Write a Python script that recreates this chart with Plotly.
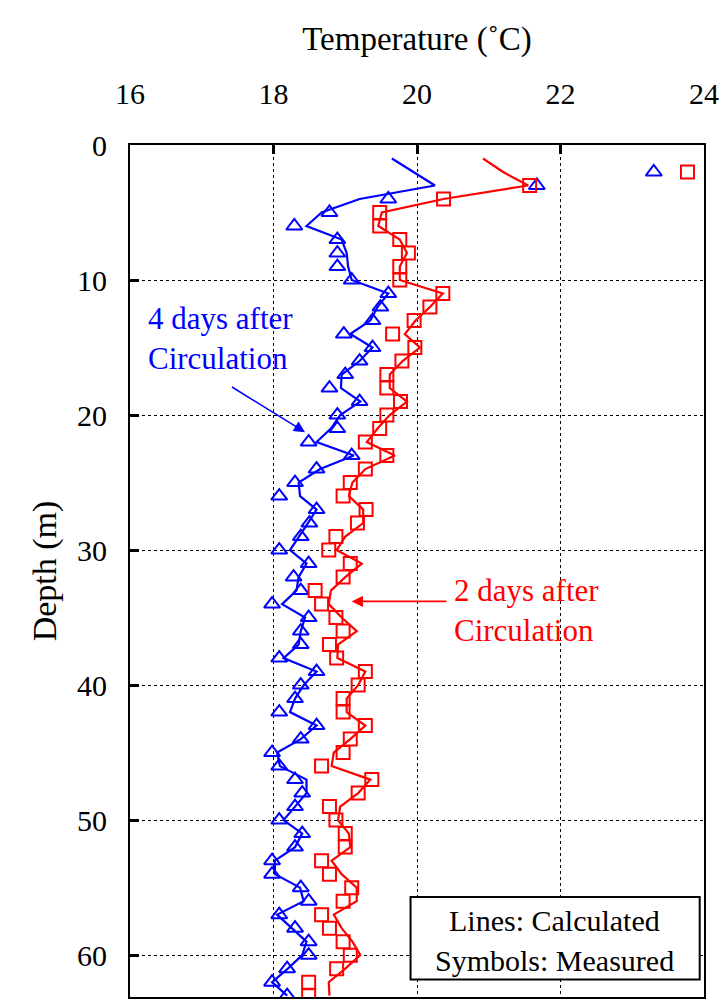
import plotly.graph_objects as go

# Measured temperatures (symbols) by depth
depth_meas = list(range(2, 64))
temp_4day_meas = [23.30, 21.67, 19.60, 18.78, 18.29, 18.89, 18.89, 18.89, 19.09, 19.60,
                  19.49, 19.38, 18.98, 19.38, 19.20, 19.00, 18.78, 19.20, 18.89, 18.89,
                  18.49, 19.09, 18.60, 18.30, 18.08, 18.60, 18.50, 18.38, 18.08, 18.49,
                  18.28, 18.38, 17.98, 18.49, 18.38, 18.38, 18.08, 18.60, 18.38, 18.30,
                  18.08, 18.60, 18.38, 17.98, 18.08, 18.30, 18.40, 18.30, 18.08, 18.40,
                  18.30, 17.98, 17.98, 18.38, 18.49, 18.08, 18.30, 18.49, 18.49, 18.19,
                  17.98, 18.19]
temp_2day_meas = [23.77, 21.57, 20.37, 19.48, 19.48, 19.76, 19.88, 19.76, 19.76, 20.36,
                  20.18, 19.96, 19.66, 19.97, 19.79, 19.58, 19.58, 19.77, 19.58, 19.48,
                  19.28, 19.58, 19.28, 19.07, 18.97, 19.29, 19.17, 18.87, 18.77, 19.07,
                  18.97, 18.58, 18.67, 18.87, 18.97, 18.78, 18.88, 19.28, 19.18, 18.97,
                  18.97, 19.28, 19.07, 18.97, 18.67, 19.37, 19.18, 18.78, 18.87, 19.00,
                  19.00, 18.67, 18.78, 19.09, 18.97, 18.67, 18.78, 18.97, 19.07, 18.88,
                  18.49, 18.49]

# Calculated temperatures (lines) by depth
depth_calc = list(range(1, 64))
temp_4day_calc = [19.65, 19.95, 20.25, 19.20, 18.67, 18.46, 18.95, 19.02, 19.04, 19.09,
                  19.60, 19.45, 19.35, 19.07, 19.38, 19.20, 18.95, 18.94, 19.21, 18.93,
                  18.80, 18.60, 19.12, 18.65, 18.35, 18.37, 18.60, 18.48, 18.35, 18.23,
                  18.46, 18.35, 18.32, 18.12, 18.44, 18.38, 18.35, 18.14, 18.60, 18.42,
                  18.30, 18.23, 18.60, 18.38, 18.05, 18.09, 18.46, 18.46, 18.30, 18.14,
                  18.40, 18.30, 18.02, 18.02, 18.37, 18.42, 18.05, 18.25, 18.46, 18.40,
                  18.20, 17.98, 18.19]
temp_2day_calc = [20.92, 21.20, 21.55, 20.37, 19.51, 19.46, 19.76, 19.86, 19.76, 19.76,
                  20.36, 20.18, 19.98, 19.83, 20.04, 19.80, 19.62, 19.62, 19.86, 19.62,
                  19.45, 19.30, 19.69, 19.28, 19.10, 19.05, 19.25, 19.25, 19.00, 18.88,
                  19.23, 19.00, 18.80, 18.77, 18.95, 19.16, 18.90, 18.89, 19.28, 19.18,
                  19.02, 19.02, 19.28, 19.07, 18.84, 18.81, 19.35, 19.18, 18.93, 18.90,
                  19.05, 19.07, 18.81, 18.95, 19.16, 19.16, 18.84, 18.95, 19.10, 19.21,
                  19.00, 18.77, 18.78]

x_ticks = [16, 18, 20, 22, 24]
y_ticks = [0, 10, 20, 30, 40, 50, 60]

BLUE = "#0000FF"
RED = "#FF0000"
FONT = "Liberation Serif"

fig = go.Figure()

fig.add_trace(go.Scatter(x=temp_4day_calc, y=depth_calc, mode="lines",
                         line=dict(color=BLUE, width=2.2), showlegend=False))
fig.add_trace(go.Scatter(x=temp_2day_calc, y=depth_calc, mode="lines",
                         line=dict(color=RED, width=2.2), showlegend=False))
fig.add_trace(go.Scatter(x=temp_4day_meas, y=depth_meas, mode="markers",
                         marker=dict(symbol="triangle-up-open", size=14, color=BLUE,
                                     line=dict(width=2, color=BLUE)),
                         showlegend=False))
fig.add_trace(go.Scatter(x=temp_2day_meas, y=depth_meas, mode="markers",
                         marker=dict(symbol="square-open", size=13, color=RED,
                                     line=dict(width=2, color=RED)),
                         showlegend=False))

# Series labels with arrows
fig.add_annotation(x=16.22, y=14.3, xref="x", yref="y", xanchor="left", yanchor="middle",
                   text="4 days after<br>Circulation", showarrow=False, align="left",
                   font=dict(family=FONT, size=31, color=BLUE))
fig.add_annotation(x=18.44, y=21.27, ax=17.40, ay=17.85, xref="x", yref="y",
                   axref="x", ayref="y", text="", showarrow=True, arrowhead=2,
                   arrowsize=1.4, arrowwidth=1.6, arrowcolor=BLUE)
fig.add_annotation(x=20.49, y=34.5, xref="x", yref="y", xanchor="left", yanchor="middle",
                   text="2 days after<br>Circulation", showarrow=False, align="left",
                   font=dict(family=FONT, size=31, color=RED))
fig.add_annotation(x=19.09, y=33.8, ax=20.43, ay=33.8, xref="x", yref="y",
                   axref="x", ayref="y", text="", showarrow=True, arrowhead=2,
                   arrowsize=1.4, arrowwidth=1.6, arrowcolor=RED)

# Key box
fig.add_shape(type="rect", xref="x", yref="y", x0=19.91, x1=23.94, y0=55.7, y1=61.8,
              fillcolor="white", line=dict(color="black", width=2), layer="above")
fig.add_annotation(x=21.92, y=57.4, xref="x", yref="y", text="Lines: Calculated",
                   showarrow=False, font=dict(family=FONT, size=30, color="black"))
fig.add_annotation(x=21.92, y=60.4, xref="x", yref="y", text="Symbols: Measured",
                   showarrow=False, font=dict(family=FONT, size=30, color="black"))

fig.update_xaxes(side="top", range=[16, 24], tickvals=x_ticks,
                 ticks="inside", ticklen=9, tickwidth=3, tickcolor="black",
                 showline=True, linecolor="black", linewidth=2, mirror=True,
                 showgrid=True, gridcolor="black", gridwidth=1, griddash="3px,3px",
                 zeroline=False, ticklabelstandoff=27,
                 tickfont=dict(family=FONT, size=30, color="black"),
                 title=dict(text="Temperature (˚C)", standoff=16,
                            font=dict(family=FONT, size=33, color="black")))
fig.update_yaxes(range=[63.1, 0], tickvals=y_ticks,
                 ticks="inside", ticklen=9, tickwidth=3, tickcolor="black",
                 showline=True, linecolor="black", linewidth=2, mirror=True,
                 showgrid=True, gridcolor="black", gridwidth=1, griddash="3px,3px",
                 zeroline=False, ticklabelstandoff=15,
                 tickfont=dict(family=FONT, size=30, color="black"),
                 title=dict(text="Depth (m)", standoff=10,
                            font=dict(family=FONT, size=34, color="black")))

fig.update_layout(width=723, height=1003, margin=dict(l=130, r=19, t=145, b=4),
                  paper_bgcolor="white", plot_bgcolor="white", showlegend=False)

fig.write_html("out.html")
